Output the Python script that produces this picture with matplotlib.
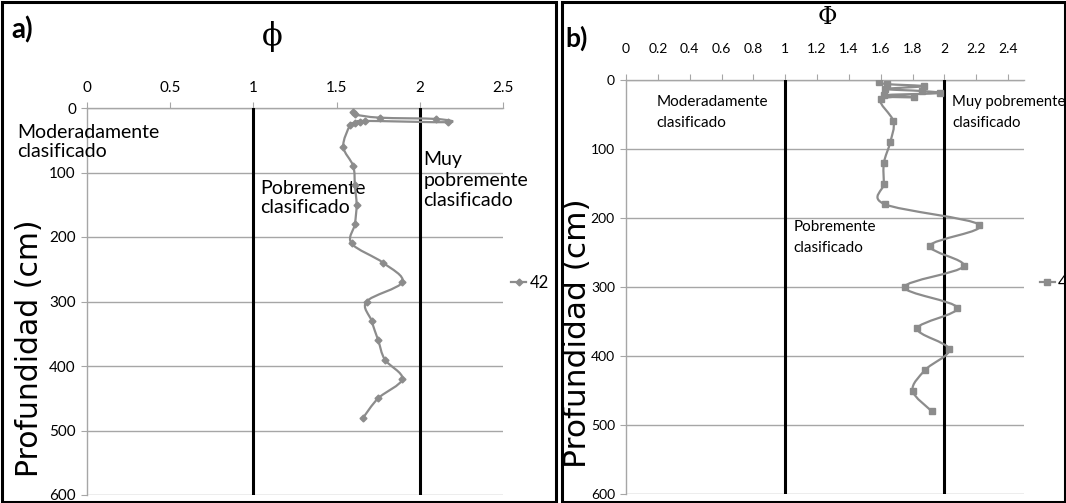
import numpy as np
import matplotlib
matplotlib.use("Agg")
import matplotlib.pyplot as plt
from matplotlib.path import Path
from matplotlib.patches import PathPatch, Rectangle
from matplotlib.lines import Line2D

plt.rcParams['font.family'] = ['Lato', 'DejaVu Sans']

# core 42: phi vs depth
a_depth = [6, 10, 15, 17, 22, 20, 22, 24, 27, 60, 90, 120, 150, 180, 210,
           240, 270, 300, 330, 360, 390, 420, 450, 480]
a_phi = [1.60, 1.61, 1.76, 2.10, 2.17, 1.67, 1.64, 1.61, 1.58, 1.54, 1.60,
         1.61, 1.62, 1.61, 1.59, 1.78, 1.895, 1.68, 1.71, 1.75, 1.79, 1.895,
         1.75, 1.66]

# core 44
b_depth = [3, 6, 9, 13, 16, 19, 22, 25, 28, 60, 90, 120, 150, 180, 210,
           240, 270, 300, 330, 360, 390, 420, 450, 480]
b_phi = [1.59, 1.64, 1.87, 1.63, 1.86, 1.97, 1.62, 1.81, 1.60, 1.68, 1.66,
         1.62, 1.62, 1.625, 2.22, 1.91, 2.12, 1.75, 2.08, 1.83, 2.03, 1.88,
         1.80, 1.92]

a_xticks = [0, 0.5, 1, 1.5, 2, 2.5]
a_xlabels = ['0', '0.5', '1', '1.5', '2', '2.5']
b_xticks = [0, 0.2, 0.4, 0.6, 0.8, 1, 1.2, 1.4, 1.6, 1.8, 2, 2.2, 2.4]
b_xlabels = ['0', '0.2', '0.4', '0.6', '0.8', '1', '1.2', '1.4', '1.6',
             '1.8', '2', '2.2', '2.4']
depth_ticks = [0, 100, 200, 300, 400, 500, 600]

LINE = '#8c8c8c'
GRID = '#a6a6a6'

W, H = 1066, 503


def fx(px):
    return px / W


def fy(py):
    return 1 - py / H


def smooth_path(x, y):
    # Excel-like smoothed line: cubic bezier through every point
    pts = np.column_stack([x, y]).astype(float)
    n = len(pts)
    verts = [pts[0]]
    codes = [Path.MOVETO]
    for i in range(n - 1):
        p0 = pts[i - 1] if i > 0 else pts[i]
        p1 = pts[i]
        p2 = pts[i + 1]
        p3 = pts[i + 2] if i + 2 < n else pts[i + 1]
        c1 = p1 + (p2 - p0) / 6.0
        c2 = p2 - (p3 - p1) / 6.0
        verts += [c1, c2, p2]
        codes += [Path.CURVE4] * 3
    return Path(verts, codes)


def setup(ax, xticks, xlabels, fs, xpad):
    ax.set_xlim(0, 2.5)
    ax.set_ylim(600, 0)
    ax.xaxis.tick_top()
    ax.set_xticks(xticks)
    ax.set_xticklabels(xlabels, fontsize=fs)
    ax.set_yticks(depth_ticks)
    ax.set_yticklabels([str(d) for d in depth_ticks], fontsize=fs)
    ax.tick_params(axis='both', direction='out', length=4, color=GRID,
                   pad=4, labelcolor='black')
    ax.tick_params(axis='x', pad=xpad)
    ax.yaxis.grid(True, color=GRID, lw=1)
    ax.set_axisbelow(True)
    for s in ('right', 'bottom'):
        ax.spines[s].set_visible(False)
    for s in ('top', 'left'):
        ax.spines[s].set_color(GRID)
        ax.spines[s].set_linewidth(1)
    ax.axvline(1, color='black', lw=2.2, zorder=3)
    ax.axvline(2, color='black', lw=2.2, zorder=3)
    ax.patch.set_alpha(0)


def series(ax, x, y, marker, ms, label, anchor):
    ax.add_patch(PathPatch(smooth_path(x, y), facecolor='none',
                           edgecolor=LINE, lw=1.6, zorder=4))
    ax.plot(x, y, linestyle='none', marker=marker, ms=ms, color=LINE,
            zorder=5)
    handle = Line2D([], [], color=LINE, lw=1.6, marker=marker, ms=ms)
    ax.legend([handle], [label], loc='center left', bbox_to_anchor=anchor,
              frameon=False, fontsize=12, handlelength=0.9,
              handletextpad=0.2, borderaxespad=0, borderpad=0)


fig = plt.figure(figsize=(W / 100, H / 100), dpi=100)

# panel frames
for x0, x1 in ((1.5, 556), (562, 1064.5)):
    fig.patches.append(Rectangle((fx(x0), fy(501.5)), fx(x1 - x0),
                                 (500 / H), transform=fig.transFigure,
                                 fill=False, edgecolor='black', lw=2.2))

# panel a
ax1 = fig.add_axes([fx(87), fy(495), fx(503 - 87), (495 - 108) / H])
setup(ax1, a_xticks, a_xlabels, 11, 5)
series(ax1, a_phi, a_depth, 'D', 3.5, '42', (1.02, 0.548))
ax1.text(-0.42, 25, 'Moderadamente\nclasificado', fontsize=14,
         va='top', ha='left', linespacing=1.1, clip_on=False)
ax1.text(1.04, 112, 'Pobremente\nclasificado', fontsize=14,
         va='top', ha='left', linespacing=1.1)
ax1.text(2.02, 67, 'Muy\npobremente\nclasificado', fontsize=14,
         va='top', ha='left', linespacing=1.25)

# panel b
ax2 = fig.add_axes([fx(626), fy(494), fx(1024 - 626), (494 - 80) / H])
setup(ax2, b_xticks, b_xlabels, 10, 14)
series(ax2, b_phi, b_depth, 's', 4.5, '44', (1.04, 0.51))
ax2.text(0.19, 22, 'Moderadamente\nclasificado', fontsize=11,
         va='top', ha='left', linespacing=1.6)
ax2.text(1.05, 203, 'Pobremente\nclasificado', fontsize=11,
         va='top', ha='left', linespacing=1.6)
ax2.text(2.05, 22, 'Muy pobremente\nclasificado', fontsize=10.7,
         va='top', ha='left', linespacing=1.65)

# panel letters, phi symbols and depth labels
fig.text(fx(11), fy(30), 'a)', fontsize=20, fontweight='bold', va='center')
fig.text(fx(565), fy(38), 'b)', fontsize=19, fontweight='bold', va='center')
fig.text(fx(272), fy(36), '\u03d5', family='DejaVu Serif', fontsize=22,
         ha='center', va='center')
fig.text(fx(827), fy(18), '\u03a6', family='DejaVu Serif', fontsize=17,
         ha='center', va='center')
fig.text(fx(30), fy(348), 'Profundidad (cm)', family='DejaVu Sans',
         fontsize=21.5, rotation=90, ha='center', va='center')
fig.text(fx(578), fy(333), 'Profundidad (cm)', family='DejaVu Sans',
         fontsize=22.5, rotation=90, ha='center', va='center')

fig.savefig('out.png', dpi=100)
